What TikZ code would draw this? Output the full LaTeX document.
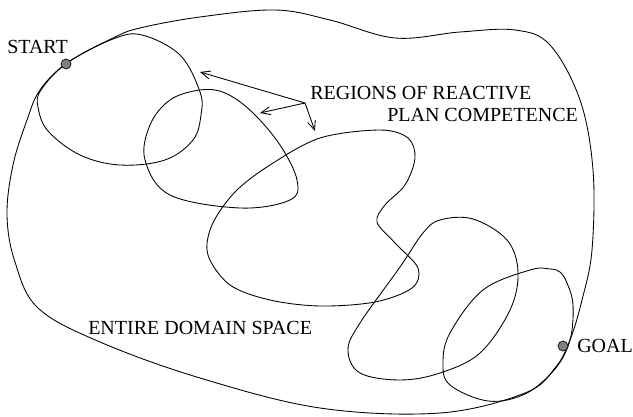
\documentclass[tikz,border=0pt]{standalone}
\usepackage{fontspec}
\setmainfont{Liberation Serif}
\usetikzlibrary{arrows.meta}
\tikzset{
  curve/.style={line width=0.65pt, black},
  lbl/.style={inner sep=0pt, anchor=base west, font=\fontsize{15}{17}\selectfont},
  dot/.style={circle, draw=black, fill=black!50, line width=0.5pt, minimum size=7.5pt, inner sep=0pt},
  pointer/.style={line width=0.65pt, -{Straight Barb[length=7pt,width=6pt]}}
}
\begin{document}
\begin{tikzpicture}[x=0.75pt,y=-0.75pt]
\useasboundingbox (0,0) rectangle (633,417);
% entire domain
\draw[curve] plot[smooth cycle, tension=0.6] coordinates {
 (7,215) (13,165) (27,120) (40,90) (67,63) (113,38) (140,28) (200,17) (275,10) (330,20) (395,38)
 (460,32) (515,30) (550,45) (580,100) (593,170) (592,250) (582,300) (570,340) (555,368)
 (525,393) (440,413) (320,408) (200,378) (100,342) (38,308) (15,262)};
% region 1
\draw[curve] plot[smooth cycle, tension=0.6] coordinates {
 (41,90) (67,63) (113,39) (142,35) (180,55) (200,92) (201,115) (193,140) (165,160)
 (120,165) (80,155) (48,131) (38,107)};
% region 2
\draw[curve] plot[smooth cycle, tension=0.6] coordinates {
 (200,90) (225,93) (252,112) (280,145) (297,180) (290,200) (240,208) (170,195)
 (145,160) (150,125) (170,100)};
% region 3
\draw[curve] plot[smooth cycle, tension=0.55] coordinates {
 (208,255) (212,225) (235,192) (270,165) (320,138) (380,130) (408,138) (415,158)
 (405,185) (385,205) (377,222) (395,243) (418,268) (412,288) (375,302) (320,306)
 (270,300) (230,285)};
% region 4
\draw[curve] plot[smooth cycle, tension=0.6] coordinates {
 (440,220) (473,219) (507,240) (518,272) (510,310) (480,353) (440,373) (400,380)
 (360,373) (348,350) (360,323) (400,267) (423,233)};
% region 5
\draw[curve] plot[smooth cycle, tension=0.6] coordinates {
 (550,269) (530,270) (483,290) (450,333) (443,363) (450,385) (488,401) (525,394)
 (555,369) (570,340) (573,305) (567,283) (560,272)};
% dots
\node[dot] (start) at (66,64) {};
\node[dot] (goal) at (563,346) {};
% labels
\node[lbl] (tstart) at (7,54) {START};
\node[lbl] (tgoal) at (577,353) {GOAL};
\node[lbl] (treg) at (310,100) {REGIONS OF REACTIVE};
\node[lbl] (tplan) at (387,122) {PLAN COMPETENCE};
\node[lbl] (tentire) at (88,335) {ENTIRE DOMAIN SPACE};
% arrows
\coordinate (hub) at (305,103);
\coordinate (r1) at (200,72);
\coordinate (r2) at (260,113);
\coordinate (r3) at (315,131);
\draw[pointer] (hub) -- (r1);
\draw[pointer] (hub) -- (r2);
\draw[pointer] (hub) -- (r3);
\end{tikzpicture}
\end{document}
